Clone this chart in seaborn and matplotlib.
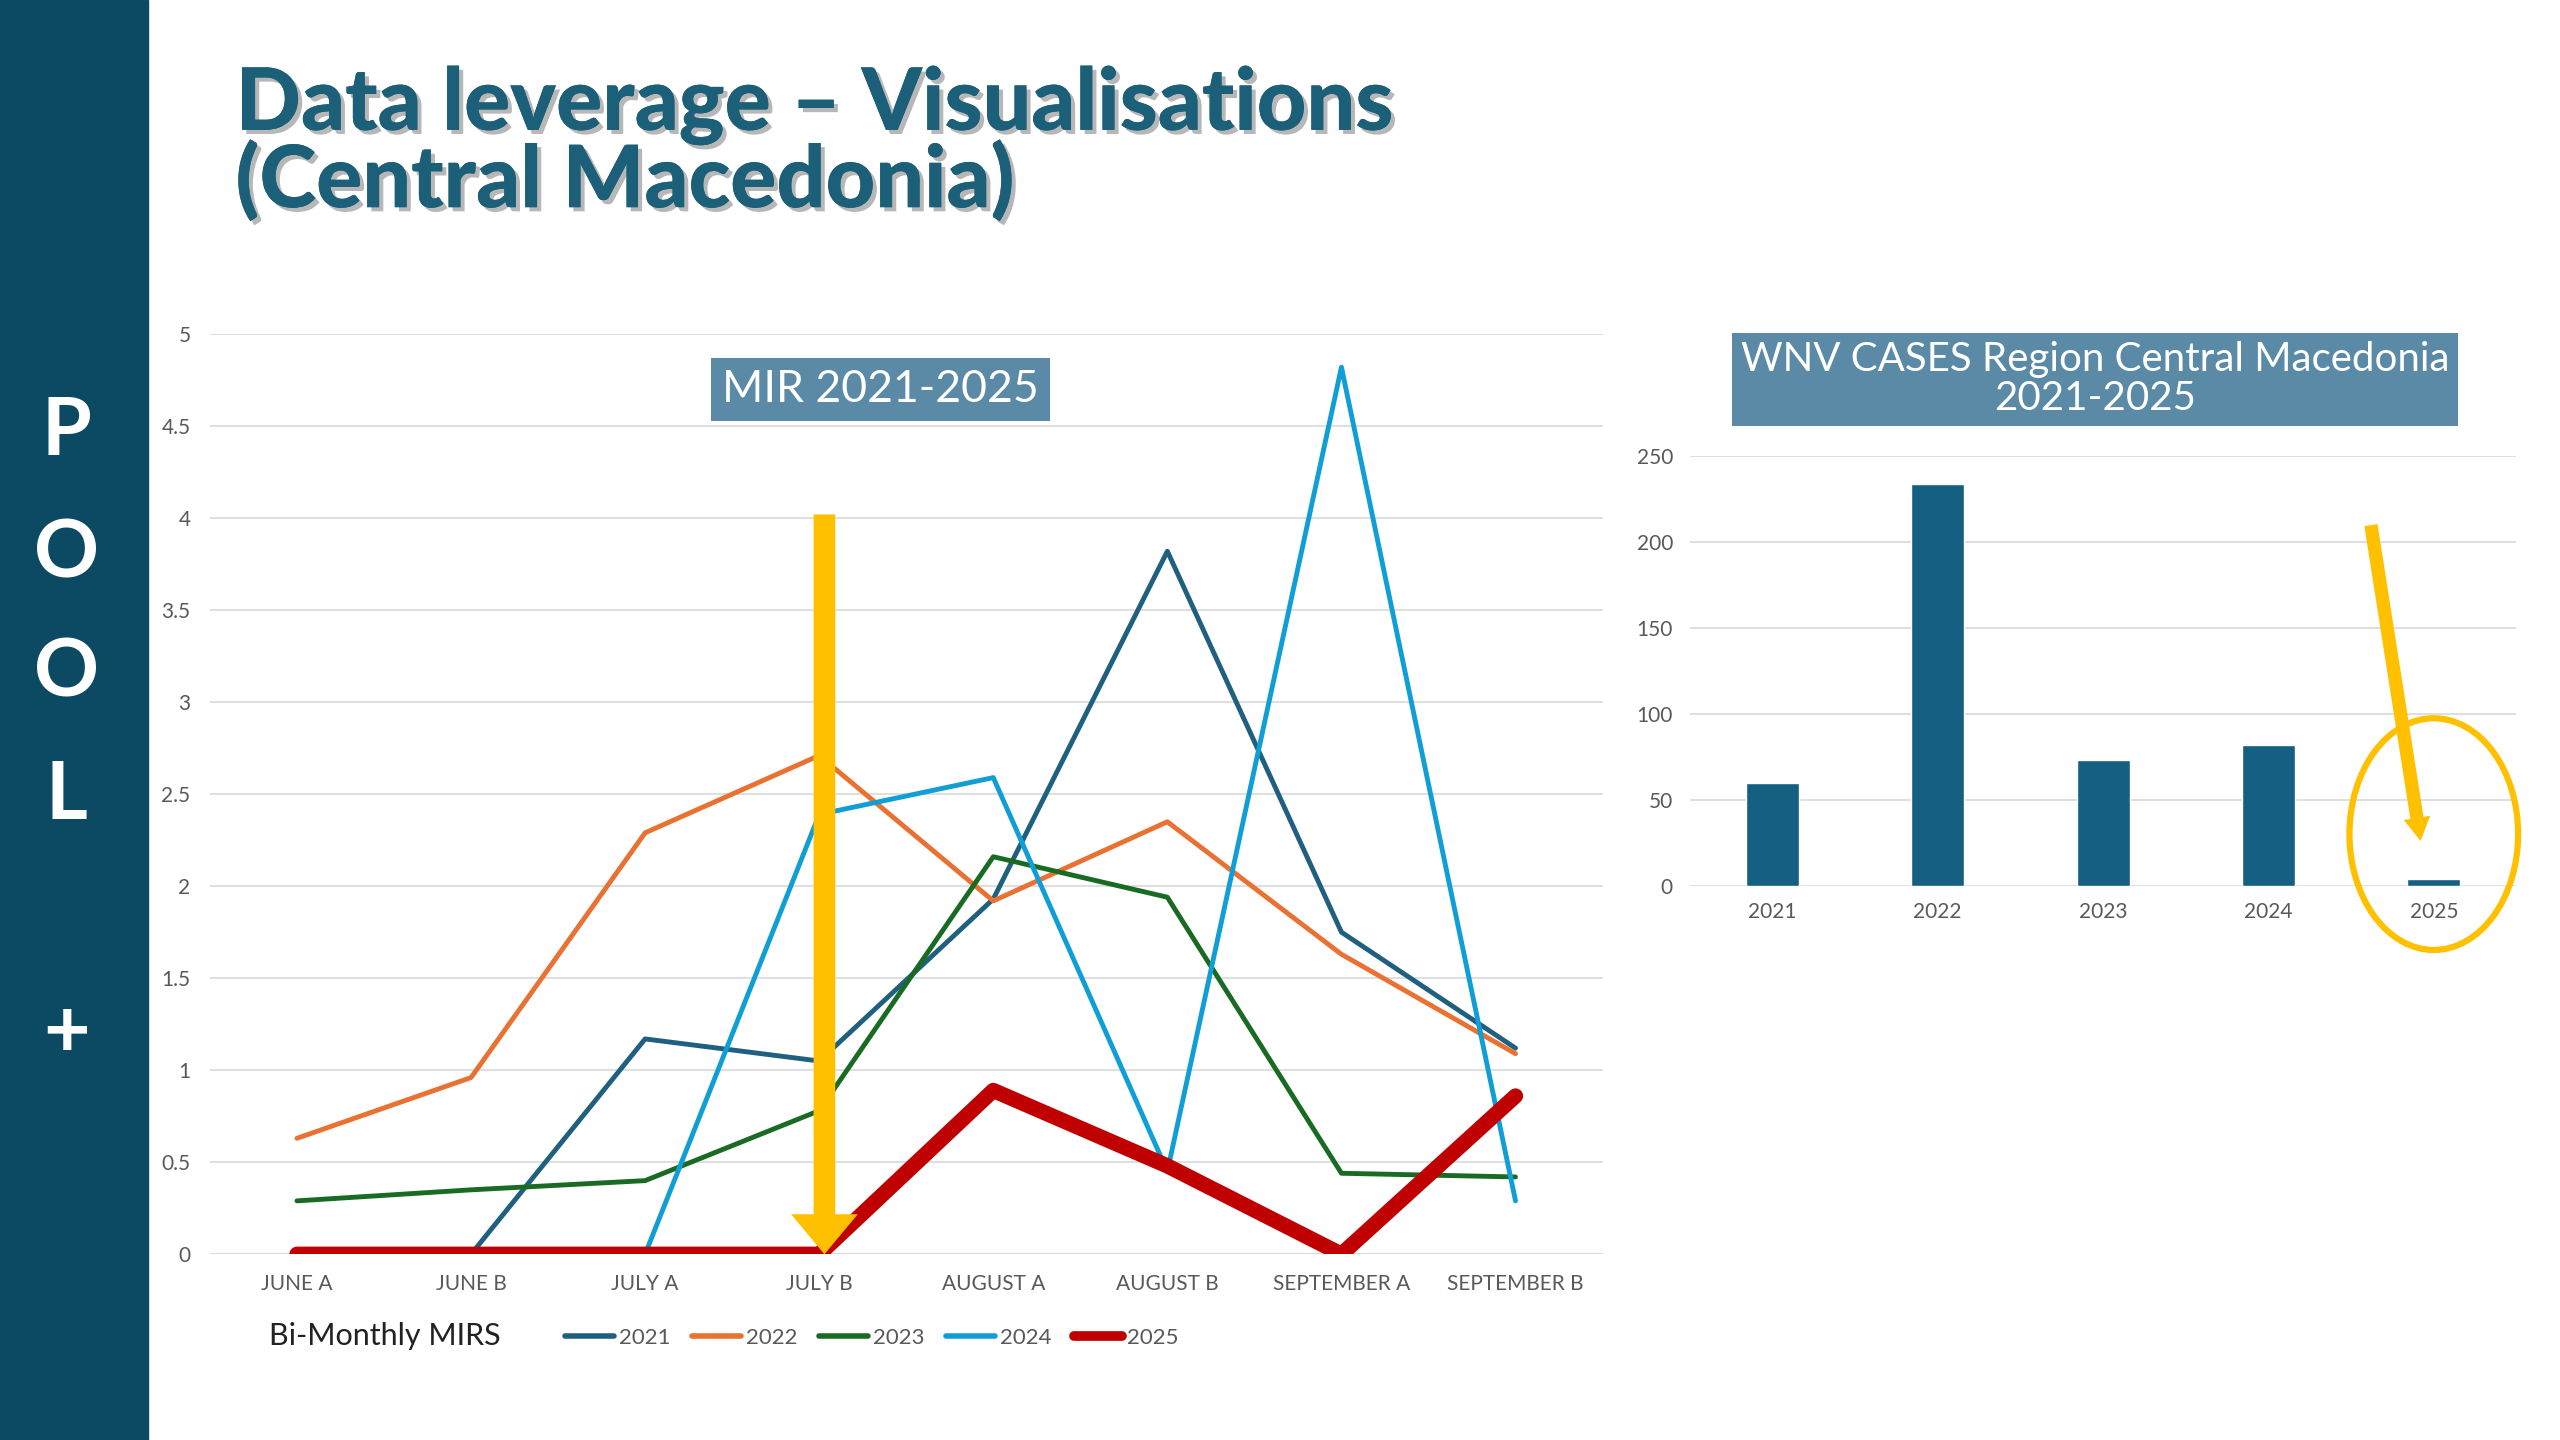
import numpy as np
import pandas as pd
import seaborn as sns
import matplotlib.pyplot as plt
from matplotlib.patches import Ellipse, Rectangle
from matplotlib.lines import Line2D
import matplotlib.patheffects as pe

# Data
periods = ["JUNE A", "JUNE B", "JULY A", "JULY B", "AUGUST A", "AUGUST B", "SEPTEMBER A", "SEPTEMBER B"]
mir_2021 = [0.0, 0.0, 1.17, 1.05, 1.93, 3.82, 1.75, 1.12]
mir_2022 = [0.63, 0.96, 2.29, 2.71, 1.92, 2.35, 1.63, 1.09]
mir_2023 = [0.29, 0.35, 0.40, 0.78, 2.16, 1.94, 0.44, 0.42]
mir_2024 = [0.0, 0.0, 0.0, 2.39, 2.59, 0.45, 4.82, 0.29]
mir_2025 = [0.0, 0.0, 0.0, 0.0, 0.89, 0.48, 0.0, 0.86]
case_years = ["2021", "2022", "2023", "2024", "2025"]
cases = [60, 234, 73, 82, 4]

colors = {"2021": "#1f5f7f", "2022": "#e97132", "2023": "#196b24", "2024": "#0f9ed5", "2025": "#c00000"}
widths = {"2021": 3.5, "2022": 3.5, "2023": 3.5, "2024": 3.5, "2025": 11}

sns.set_theme(style="white")
plt.rcParams['font.family'] = ['Lato', 'DejaVu Sans']

fig = plt.figure(figsize=(25.6, 14.4), dpi=100)
fig.patch.set_facecolor("white")

# left side strip
fig.patches.append(Rectangle((0, 0), 0.058, 1, transform=fig.transFigure, color="#0c4a64", zorder=0))
for ch, y in zip(["P", "O", "O", "L", "+"], [0.70, 0.615, 0.532, 0.447, 0.282]):
    fig.text(0.026, y, ch, color="white", fontsize=58, fontweight="bold", ha="center", va="center")

# title
fig.text(0.092, 0.900, "Data leverage – Visualisations\n(Central Macedonia)", color="#1b5f78",
         fontsize=62, fontweight="black", ha="left", va="center", linespacing=0.92,
         path_effects=[pe.withSimplePatchShadow(offset=(3, -3), shadow_rgbFace="#888888", alpha=0.6), pe.Normal()])

# line chart
df = pd.DataFrame({"period": periods * 5,
                   "year": sum([[y] * len(periods) for y in case_years], []),
                   "mir": mir_2021 + mir_2022 + mir_2023 + mir_2024 + mir_2025})
df["x"] = df["period"].map({p: i for i, p in enumerate(periods)})

ax = fig.add_axes([0.082, 0.129, 0.544, 0.639])
for yr in case_years:
    sub = df[df["year"] == yr]
    sns.lineplot(data=sub, x="x", y="mir", color=colors[yr], linewidth=widths[yr], ax=ax,
                 label=yr, solid_capstyle="round", zorder=3 if yr == "2025" else 2)
ax.set_xlim(-0.5, 7.5)
ax.set_ylim(0, 5)
ax.set_yticks(np.arange(0, 5.01, 0.5))
ax.set_yticklabels(["0", "0.5", "1", "1.5", "2", "2.5", "3", "3.5", "4", "4.5", "5"])
ax.set_xticks(range(len(periods)))
ax.set_xticklabels(periods)
ax.tick_params(labelsize=15, colors="#595959", length=0, pad=14)
ax.yaxis.grid(True, color="#d9d9d9", linewidth=1.2)
for s in ax.spines.values():
    s.set_visible(False)
ax.axhline(0, color="#d9d9d9", linewidth=1.2, zorder=0)
ax.set_xlabel("")
ax.set_ylabel("")
ax.get_legend().remove()
ax.text(3.35, 4.7, "MIR 2021-2025", fontsize=32, color="white", ha="center", va="center",
        bbox=dict(boxstyle="square,pad=0.25", fc="#5a8aa5", ec="none"))
ax.annotate("", xy=(3.03, 0.0), xytext=(3.03, 4.02),
            arrowprops=dict(arrowstyle="simple,head_width=4.0,head_length=2.4,tail_width=1.3",
                            fc="#ffc000", ec="none", shrinkA=0, shrinkB=0), zorder=4)

handles = [Line2D([], [], color=colors[y], lw=4 if y != "2025" else 7) for y in case_years]
fig.legend(handles, case_years, loc="center left", bbox_to_anchor=(0.213, 0.071), ncol=5, frameon=False,
           fontsize=16, labelcolor="#595959", handlelength=2.2, columnspacing=1.0, handletextpad=0.2)
fig.text(0.105, 0.072, "Bi-Monthly MIRS", fontsize=22, color="#222222", va="center")

# bar chart
ax2 = fig.add_axes([0.660, 0.385, 0.323, 0.298])
sns.barplot(x=case_years, y=cases, color="#156082", width=0.32, ax=ax2, saturation=1)
ax2.set_ylim(0, 250)
ax2.set_yticks(range(0, 251, 50))
ax2.yaxis.grid(True, color="#d9d9d9", linewidth=1.2)
ax2.set_axisbelow(True)
for s in ax2.spines.values():
    s.set_visible(False)
ax2.tick_params(labelsize=15, colors="#595959", length=0, pad=12)
ax2.text(1.95, 295, "WNV CASES Region Central Macedonia\n2021-2025", fontsize=29, color="white",
         ha="center", va="center", linespacing=1.05,
         bbox=dict(boxstyle="square,pad=0.22", fc="#5a8aa5", ec="none"))
ax2.add_patch(Ellipse((4.0, 30), 1.02, 135, fill=False, ec="#ffc000", lw=4.5, clip_on=False))
ax2.annotate("", xy=(3.92, 26), xytext=(3.62, 210),
             arrowprops=dict(arrowstyle="simple,head_width=1.6,head_length=1.4,tail_width=0.8",
                             fc="#ffc000", ec="none", shrinkA=0, shrinkB=0))

fig.savefig("out.png", dpi=100)
